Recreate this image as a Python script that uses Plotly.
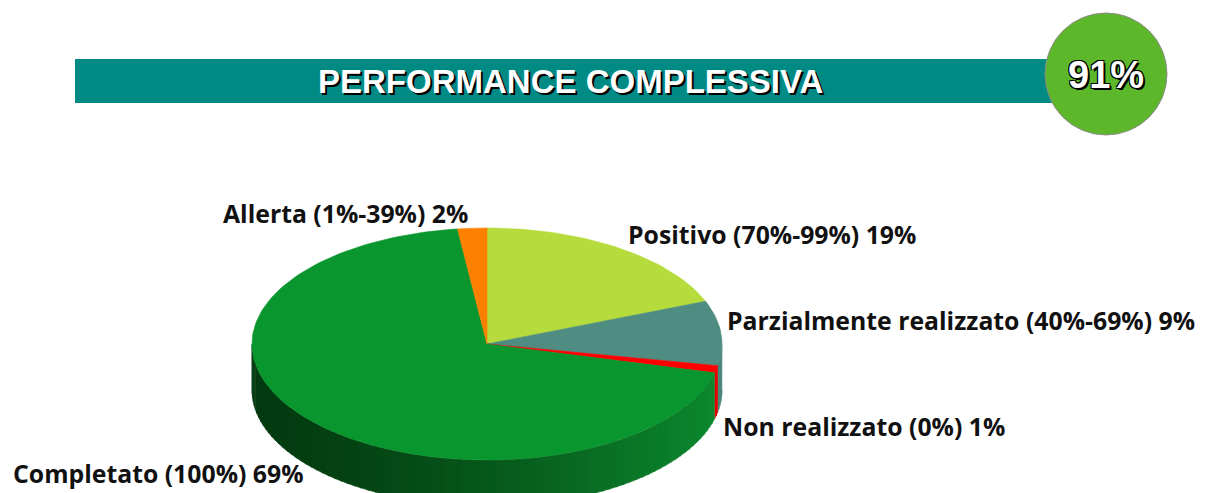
import numpy as np
import plotly.graph_objects as go

# ---------------- data ----------------
labels = ["Positivo (70%-99%)", "Parzialmente realizzato (40%-69%)",
          "Non realizzato (0%)", "Completato (100%)", "Allerta (1%-39%)"]
values = [19, 9, 1, 69, 2]
top_colors = ["#b5dc3c", "#4f8c82", "#ff0000", "#0a962e", "#ff8000"]
side_dark = ["#7f9e22", "#3a6e66", "#b00000", "#033a10", "#b05800"]
side_light = ["#a4c832", "#4a857b", "#e00000", "#0c8a2e", "#e07000"]
overall_value = "91%"
title_text = "PERFORMANCE COMPLESSIVA"

# ---------------- layout / geometry (pixel space) ----------------
W, H = 1215, 493
OFF = 8  # default page body margin
CX, CY, RX, RY, DEPTH = 487, 344, 235, 116, 46
label_pos = {  # left x, middle y of each outside label
    "Positivo (70%-99%)": (626, 234),
    "Parzialmente realizzato (40%-69%)": (725, 320),
    "Non realizzato (0%)": (721, 426),
    "Completato (100%)": (11, 473),
    "Allerta (1%-39%)": (221, 213),
}


def hex2rgb(h):
    h = h.lstrip("#")
    return np.array([int(h[i:i + 2], 16) for i in (0, 2, 4)], dtype=float)


def lerp_col(c1, c2, f):
    c = hex2rgb(c1) * (1 - f) + hex2rgb(c2) * f
    return "rgb(%d,%d,%d)" % tuple(np.clip(c, 0, 255).round())


def ell(t_deg, dy=0.0):
    t = np.radians(t_deg)
    return CX + RX * np.sin(t), CY - RY * np.cos(t) + dy


fig = go.Figure()

total = float(sum(values))
starts = np.concatenate([[0], np.cumsum(values)[:-1]]) / total * 360
ends = np.cumsum(values) / total * 360

# ---- side walls (front half: 90..270 deg clockwise from top) ----
for i, lab in enumerate(labels):
    a, b = max(starts[i], 90), min(ends[i], 270)
    if b <= a:
        continue
    n = max(1, int(np.ceil((b - a) / 2.0)))
    edges = np.linspace(a, b, n + 1)
    for k in range(n):
        ts = np.linspace(edges[k], edges[k + 1] + (0.4 if k < n - 1 else 0), 6)
        xt, yt = ell(ts)
        xb, yb = ell(ts[::-1], DEPTH)
        xm, _ = ell((edges[k] + edges[k + 1]) / 2)
        f = (xm - (CX - RX)) / (2 * RX)
        col = lerp_col(side_dark[i], side_light[i], f ** 1.4)
        fig.add_trace(go.Scatter(
            x=np.concatenate([xt, xb]), y=np.concatenate([yt, yb]),
            mode="lines", fill="toself", fillcolor=col,
            line=dict(color=col, width=0.6), hoverinfo="skip", showlegend=False))

# ---- top face wedges ----
for i, lab in enumerate(labels):
    ts = np.linspace(starts[i], ends[i], max(3, int((ends[i] - starts[i]) / 1.5)))
    xs, ys = ell(ts)
    fig.add_trace(go.Scatter(
        x=np.concatenate([[CX], xs, [CX]]), y=np.concatenate([[CY], ys, [CY]]),
        mode="lines", fill="toself", fillcolor=top_colors[i],
        line=dict(color=top_colors[i], width=0.6),
        name=lab, hoverinfo="name", showlegend=False))

# ---- outside labels ----
for i, lab in enumerate(labels):
    x, y = label_pos[lab]
    fig.add_annotation(x=x, y=y, xref="x", yref="y", xanchor="left", yanchor="middle",
                       text=f"{lab} {values[i]}%", showarrow=False,
                       font=dict(family="Open Sans, Liberation Sans, sans-serif", size=24.8,
                                 color="#111111", weight="bold"))

# ---- header band and overall badge ----
fig.add_shape(type="rect", xref="x", yref="y", x0=75, x1=1060, y0=59, y1=103,
              fillcolor="#008a84", line=dict(width=0), layer="below")
fig.add_shape(type="circle", xref="x", yref="y", x0=1045, x1=1167, y0=13, y1=135,
              fillcolor="#5cb82a", line=dict(color="#8a8a8a", width=1), layer="above")
fig.add_annotation(x=570, y=81, xref="x", yref="y", text=title_text, showarrow=False,
                   xanchor="center", yanchor="middle",
                   font=dict(family="Liberation Sans, Arial", size=33,
                             color="white", weight="bold", shadow="2px 2px 0px #000"))
fig.add_annotation(x=1106, y=75, xref="x", yref="y", text=overall_value, showarrow=False,
                   xanchor="center", yanchor="middle",
                   font=dict(family="Liberation Sans, Arial", size=38, color="white",
                             weight="bold",
                             shadow="-1px -1px 0 #000, 1px -1px 0 #000, -1px 1px 0 #000, 2px 2px 0 #000"))

fig.update_layout(
    width=W - OFF, height=H - OFF, margin=dict(l=0, r=0, t=0, b=0),
    paper_bgcolor="white", plot_bgcolor="white",
    xaxis=dict(range=[OFF, W], visible=False, fixedrange=True),
    yaxis=dict(range=[H, OFF], visible=False, fixedrange=True),
    showlegend=False,
)

fig.write_html("out.html")
